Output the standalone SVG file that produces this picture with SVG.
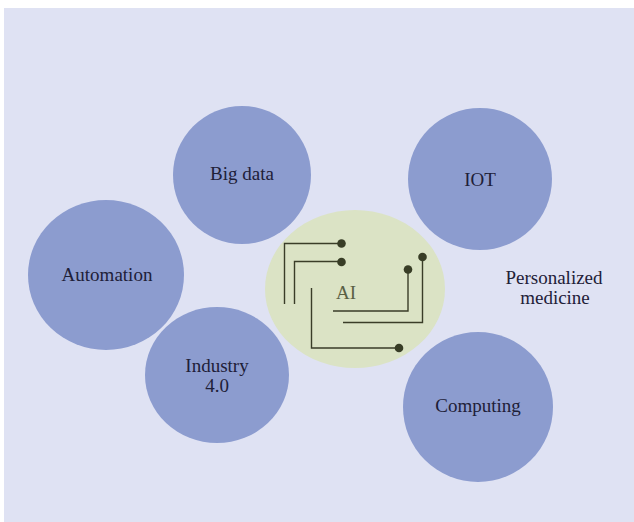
<svg xmlns="http://www.w3.org/2000/svg" width="634" height="522" viewBox="0 0 634 522">
<style>
.n{fill:#8c9ccf}
.t{font-family:"Liberation Serif","DejaVu Serif",serif;font-size:19px;fill:#1e2038;text-anchor:middle}
.w{fill:none;stroke:#3a3d28;stroke-width:1.4}
.d{fill:#383d26}
</style>
<rect x="4" y="8" width="630" height="514" fill="#dfe2f3"/>
<g id="bigdata"><circle class="n" cx="242" cy="175" r="69"/><text class="t" x="242" y="180">Big data</text></g>
<g id="iot"><ellipse class="n" cx="480" cy="179" rx="72" ry="71"/><text class="t" x="480" y="186">IOT</text></g>
<g id="automation"><ellipse class="n" cx="106" cy="275" rx="78" ry="75"/><text class="t" x="107" y="281">Automation</text></g>
<g id="industry"><ellipse class="n" cx="217" cy="375" rx="72" ry="68"/><text class="t" x="217" y="372">Industry</text><text class="t" x="217" y="392">4.0</text></g>
<g id="computing"><ellipse class="n" cx="478" cy="407" rx="75" ry="75"/><text class="t" x="478" y="412">Computing</text></g>
<g id="personalized"><text class="t" x="554" y="284">Personalized</text><text class="t" x="555" y="304">medicine</text></g>
<g id="ai"><ellipse cx="355" cy="289" rx="90" ry="79" fill="#dbe3c5"/><text class="t" x="346" y="299" style="fill:#5a6044">AI</text></g>
<g id="connectors">
<polyline class="w" points="284.5,304 284.5,243.5 341,243.5"/>
<polyline class="w" points="294.5,304 294.5,261.5 341,261.5"/>
<polyline class="w" points="311.5,288 311.5,348 399,348"/>
<polyline class="w" points="333,311 408,311 408,270"/>
<polyline class="w" points="343,322.5 422.5,322.5 422.5,257"/>
<circle class="d" cx="341.5" cy="243.5" r="4.3"/>
<circle class="d" cx="341.5" cy="262" r="4.3"/>
<circle class="d" cx="399" cy="348" r="4.3"/>
<circle class="d" cx="408" cy="269.5" r="4.3"/>
<circle class="d" cx="422.5" cy="257" r="4.3"/>
</g>
</svg>
